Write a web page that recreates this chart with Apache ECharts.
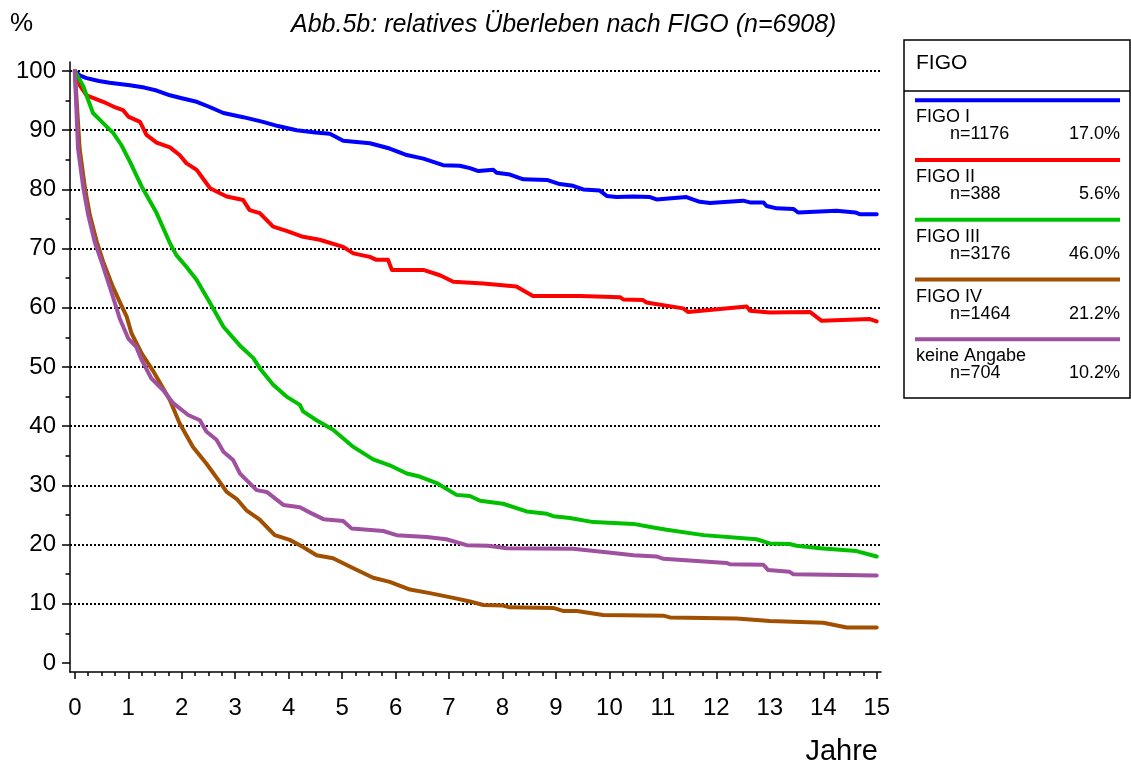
<!DOCTYPE html>
<html>
<head>
<meta charset="utf-8">
<script src="https://cdn.jsdelivr.net/npm/echarts@6/dist/echarts.min.js"></script>
<style>
  html, body { margin: 0; padding: 0; background: #fff; }
  #chart { width: 1131px; height: 767px; }
</style>
</head>
<body>
<div id="chart"></div>
<script>
// relatives Überleben, [Jahre, %]
const figoI = [[0,100],[0.1,99.2],[0.22,98.8],[0.45,98.3],[0.65,98.0],[1.03,97.6],[1.3,97.2],[1.53,96.7],[1.78,95.9],[2.0,95.4],[2.28,94.8],[2.5,94.0],[2.78,92.9],[3.15,92.2],[3.52,91.4],[3.8,90.7],[4.15,90.0],[4.5,89.6],[4.77,89.4],[5.02,88.2],[5.52,87.8],[5.89,86.9],[6.21,85.8],[6.52,85.2],[6.89,84.1],[7.2,84.0],[7.39,83.6],[7.55,83.1],[7.83,83.3],[7.89,82.8],[8.14,82.5],[8.39,81.7],[8.83,81.6],[9.07,80.9],[9.32,80.6],[9.51,80.0],[9.82,79.8],[9.95,78.9],[10.13,78.7],[10.45,78.8],[10.76,78.7],[10.88,78.3],[11.44,78.7],[11.69,77.9],[11.88,77.7],[12.5,78.1],[12.63,77.8],[12.88,77.8],[12.94,77.2],[13.13,76.8],[13.44,76.7],[13.53,76.1],[14.25,76.4],[14.6,76.1],[14.69,75.8],[15,75.8]];
const figoII = [[0,100],[0.1,97.5],[0.22,95.9],[0.53,94.8],[0.72,94.0],[0.9,93.4],[1.0,92.3],[1.22,91.4],[1.34,89.2],[1.53,87.9],[1.78,87.1],[1.96,85.8],[2.09,84.4],[2.28,83.3],[2.53,80.2],[2.84,78.8],[3.15,78.2],[3.27,76.5],[3.46,76.0],[3.71,73.7],[3.96,73.0],[4.27,72.0],[4.58,71.5],[5.02,70.3],[5.21,69.2],[5.52,68.6],[5.64,68.1],[5.86,68.1],[5.93,66.4],[6.52,66.4],[6.83,65.5],[7.08,64.4],[7.64,64.1],[8.26,63.6],[8.57,62.0],[9.45,62.0],[10.2,61.8],[10.26,61.4],[10.63,61.3],[10.69,60.9],[11.38,59.9],[11.47,59.3],[12.57,60.2],[12.63,59.5],[13.0,59.2],[13.75,59.3],[13.97,57.8],[14.87,58.1],[15,57.7]];
const figoIII = [[0,100],[0.16,97.4],[0.25,95.1],[0.34,92.9],[0.53,91.2],[0.72,89.5],[0.87,87.5],[1.03,84.7],[1.25,80.5],[1.53,76.0],[1.78,70.9],[1.9,68.9],[2.09,66.9],[2.28,64.7],[2.53,60.8],[2.78,56.8],[3.09,53.6],[3.34,51.5],[3.46,49.8],[3.71,47.0],[3.96,45.0],[4.21,43.6],[4.27,42.5],[4.52,41.0],[4.83,39.4],[5.21,36.5],[5.58,34.4],[5.89,33.4],[6.21,32.0],[6.45,31.5],[6.77,30.4],[7.14,28.4],[7.39,28.2],[7.58,27.4],[8.01,26.9],[8.45,25.6],[8.83,25.2],[8.95,24.8],[9.26,24.5],[9.7,23.8],[10.45,23.5],[10.82,22.9],[11.07,22.5],[11.76,21.6],[12.75,20.9],[13.0,20.2],[13.37,20.1],[13.5,19.8],[13.94,19.4],[14.62,18.9],[15,18.0]];
const figoIV = [[0,100],[0.09,86.9],[0.19,80.2],[0.28,75.7],[0.41,71.2],[0.53,67.8],[0.7,63.8],[0.84,61.0],[0.97,58.5],[1.06,55.7],[1.25,52.3],[1.46,49.4],[1.78,44.4],[1.96,40.5],[2.21,36.5],[2.46,33.7],[2.71,30.6],[2.84,28.9],[3.03,27.7],[3.21,25.8],[3.46,24.2],[3.74,21.6],[4.02,20.8],[4.27,19.6],[4.52,18.2],[4.83,17.7],[5.21,16.0],[5.58,14.4],[5.89,13.7],[6.27,12.4],[6.64,11.8],[7.08,11.0],[7.39,10.4],[7.64,9.8],[8.01,9.7],[8.14,9.4],[8.95,9.3],[9.13,8.8],[9.39,8.8],[9.88,8.1],[11.01,8.0],[11.13,7.7],[12.38,7.5],[13.0,7.1],[14.0,6.8],[14.44,6.0],[15,6.0]];
const keineAngabe = [[0,100],[0.06,86.9],[0.16,80.2],[0.25,75.7],[0.37,71.2],[0.5,67.8],[0.69,62.5],[0.84,58.2],[1.0,54.8],[1.15,53.4],[1.25,51.2],[1.43,48.1],[1.65,46.1],[1.84,43.9],[2.12,41.9],[2.34,41.0],[2.46,39.1],[2.65,37.7],[2.78,35.7],[2.96,34.3],[3.09,32.0],[3.4,29.2],[3.59,28.9],[3.9,26.7],[4.21,26.3],[4.4,25.4],[4.65,24.3],[5.02,24.0],[5.18,22.7],[5.77,22.3],[6.02,21.6],[6.58,21.3],[6.95,20.9],[7.33,19.9],[7.73,19.8],[8.08,19.4],[9.32,19.3],[10.07,18.6],[10.45,18.2],[10.88,18.0],[11.01,17.6],[12.19,16.9],[12.25,16.7],[12.88,16.6],[12.97,15.7],[13.37,15.4],[13.44,15.0],[15,14.8]];

const seriesData = [figoI, figoII, figoIII, figoIV, keineAngabe];
const seriesNames = ['FIGO I', 'FIGO II', 'FIGO III', 'FIGO IV', 'keine Angabe'];
const seriesCounts = ['n=1176', 'n=388', 'n=3176', 'n=1464', 'n=704'];
const seriesShares = ['17.0%', '5.6%', '46.0%', '21.2%', '10.2%'];
const seriesColors = ['#0000ff', '#ff0000', '#00c000', '#a05000', '#a050a0'];

// Achsen
const xLabels = [0, 1, 2, 3, 4, 5, 6, 7, 8, 9, 10, 11, 12, 13, 14, 15];
const xMinorTicks = [0.25, 0.5, 0.75, 1.25, 1.5, 1.75, 2.25, 2.5, 2.75, 3.25, 3.5, 3.75, 4.25, 4.5, 4.75, 5.25, 5.5, 5.75, 6.25, 6.5, 6.75, 7.25, 7.5, 7.75, 8.25, 8.5, 8.75, 9.25, 9.5, 9.75, 10.25, 10.5, 10.75, 11.25, 11.5, 11.75, 12.25, 12.5, 12.75, 13.25, 13.5, 13.75, 14.25, 14.5, 14.75];
const yLabels = [0, 10, 20, 30, 40, 50, 60, 70, 80, 90, 100];
const yMinorTicks = [5, 15, 25, 35, 45, 55, 65, 75, 85, 95];
const gridValues = [10, 20, 30, 40, 50, 60, 70, 80, 90, 100];

const FONT = '"Liberation Sans", Arial, sans-serif';
const chart = echarts.init(document.getElementById('chart'));

const axisLineStyle = { color: '#000', width: 1.5 };

// Legende als Kasten rechts
const legendGraphics = [
  { type: 'rect', shape: { x: 904, y: 40, width: 226, height: 358 }, style: { fill: '#fff', stroke: '#000', lineWidth: 1.5 } },
  { type: 'line', shape: { x1: 904, y1: 91, x2: 1130, y2: 91 }, style: { stroke: '#000', lineWidth: 1.5 } },
  { type: 'text', x: 916, y: 63, style: { text: 'FIGO', font: '21px ' + FONT, fill: '#000', verticalAlign: 'middle' } }
];
seriesNames.forEach((name, i) => {
  const ly = 100.3 + i * 59.75;
  legendGraphics.push(
    { type: 'line', shape: { x1: 915, y1: ly, x2: 1120, y2: ly }, style: { stroke: seriesColors[i], lineWidth: 4 } },
    { type: 'text', x: 916, y: ly + 17, style: { text: name, font: '18px ' + FONT, fill: '#000', verticalAlign: 'middle' } },
    { type: 'text', x: 950, y: ly + 34, style: { text: seriesCounts[i], font: '18px ' + FONT, fill: '#000', verticalAlign: 'middle' } },
    { type: 'text', x: 1120, y: ly + 34, style: { text: seriesShares[i], font: '18px ' + FONT, fill: '#000', align: 'right', verticalAlign: 'middle' } }
  );
});

const option = {
  backgroundColor: '#fff',
  animation: false,
  title: {
    text: 'Abb.5b: relatives Überleben nach FIGO (n=6908)',
    left: 286,
    top: 8,
    textStyle: { fontFamily: FONT, fontStyle: 'italic', fontWeight: 'normal', fontSize: 25, color: '#000' }
  },
  grid: { left: 70, top: 62, width: 811, height: 610 },
  xAxis: [
    {
      type: 'value', min: -0.09, max: 15.08, position: 'bottom',
      axisLine: { show: true, onZero: false, lineStyle: axisLineStyle },
      axisTick: { show: true, customValues: xLabels, length: 7, lineStyle: axisLineStyle },
      axisLabel: { customValues: xLabels, margin: 24, fontFamily: FONT, fontSize: 24, color: '#000' },
      splitLine: { show: false }
    },
    {
      type: 'value', min: -0.09, max: 15.08, position: 'bottom',
      axisLine: { show: false, onZero: false },
      axisTick: { show: true, customValues: xMinorTicks, length: 4, lineStyle: axisLineStyle },
      axisLabel: { show: false },
      splitLine: { show: false }
    }
  ],
  yAxis: [
    {
      type: 'value', min: -1.52, max: 101.52, position: 'left',
      axisLine: { show: true, onZero: false, lineStyle: axisLineStyle },
      axisTick: { show: true, customValues: yLabels, length: 8, lineStyle: axisLineStyle },
      axisLabel: { customValues: yLabels, margin: 14, fontFamily: FONT, fontSize: 24, color: '#000' },
      splitLine: { show: false }
    },
    {
      type: 'value', min: -1.52, max: 101.52, position: 'left',
      axisLine: { show: false, onZero: false },
      axisTick: { show: true, customValues: yMinorTicks, length: 4.5, lineStyle: axisLineStyle },
      axisLabel: { show: false },
      splitLine: { show: false }
    }
  ],
  graphic: [
    { type: 'text', x: 10, y: 24, style: { text: '%', font: '26px ' + FONT, fill: '#000', verticalAlign: 'middle' } },
    { type: 'text', x: 878, y: 752, style: { text: 'Jahre', font: '29px ' + FONT, fill: '#000', align: 'right', verticalAlign: 'middle' } }
  ].concat(legendGraphics),
  series: seriesData.map((data, i) => ({
    name: seriesNames[i],
    type: 'line',
    xAxisIndex: 0,
    yAxisIndex: 0,
    data: data,
    showSymbol: false,
    symbol: 'none',
    z: 3 + i,
    lineStyle: { color: seriesColors[i], width: 4, join: 'round', cap: 'round' },
    markLine: i === 0 ? {
      silent: true,
      symbol: 'none',
      z: 1,
      label: { show: false },
      lineStyle: { color: '#000', width: 2, type: [2, 2] },
      data: gridValues.map(v => ({ yAxis: v }))
    } : undefined
  }))
};

chart.setOption(option);
</script>
</body>
</html>
